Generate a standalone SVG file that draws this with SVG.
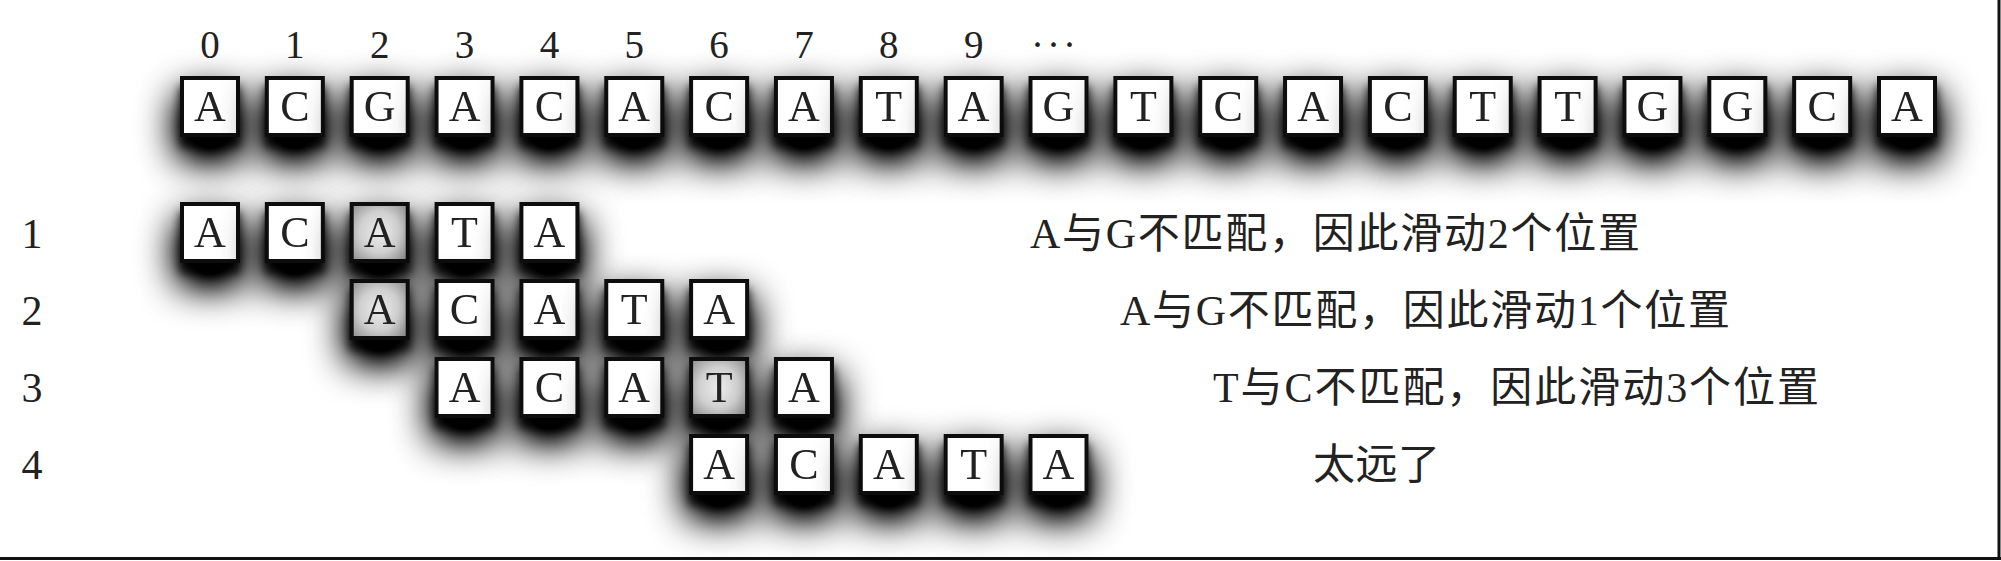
<svg xmlns="http://www.w3.org/2000/svg" width="2001" height="561" viewBox="0 0 2001 561">
<defs>
<filter id="sh" x="-120%" y="-120%" width="340%" height="380%">
<feGaussianBlur in="SourceAlpha" stdDeviation="20" result="w"/>
<feOffset in="w" dy="20" result="wo"/>
<feComponentTransfer in="wo" result="wc"><feFuncA type="linear" slope="1.7"/></feComponentTransfer>
<feGaussianBlur in="SourceAlpha" stdDeviation="5" result="t"/>
<feOffset in="t" dy="10" result="to"/>
<feComponentTransfer in="to" result="tc"><feFuncA type="linear" slope="0.85"/></feComponentTransfer>
<feMerge><feMergeNode in="wc"/><feMergeNode in="tc"/><feMergeNode in="SourceGraphic"/></feMerge>
</filter>
<radialGradient id="hl" cx="50%" cy="50%" r="65%">
<stop offset="0" stop-color="#ececec"/>
<stop offset="0.55" stop-color="#d0d0d0"/>
<stop offset="1" stop-color="#959595"/>
</radialGradient>
<style>
.n{filter:url(#sh)}
.b{fill:#fff;stroke:#111;stroke-width:4}
.h{fill:url(#hl);stroke:#111;stroke-width:4}
.l{font-family:"Liberation Serif",serif;font-size:44px;text-anchor:middle;fill:#222}
.ix{font-family:"Liberation Serif",serif;font-size:39px;text-anchor:middle;fill:#222}
.rw{font-family:"Liberation Serif",serif;font-size:42px;text-anchor:middle;fill:#222}
.t{font-family:"Liberation Serif","Noto Sans CJK SC",serif;font-size:42px;fill:#222}
</style>
</defs>
<rect width="2001" height="561" fill="#fff"/>
<g id="index-labels">
<text class="ix" x="210" y="58">0</text>
<text class="ix" x="294.85" y="58">1</text>
<text class="ix" x="379.7" y="58">2</text>
<text class="ix" x="464.55" y="58">3</text>
<text class="ix" x="549.4" y="58">4</text>
<text class="ix" x="634.25" y="58">5</text>
<text class="ix" x="719.1" y="58">6</text>
<text class="ix" x="803.95" y="58">7</text>
<text class="ix" x="888.8" y="58">8</text>
<text class="ix" x="973.65" y="58">9</text>
<text class="ix" x="1055" y="58" letter-spacing="3">···</text>
</g>
<g id="text-row">
<g id="t0" class="n" transform="translate(180,76)"><rect class="b" x="2" y="2" width="56" height="57"/><text class="l" x="30" y="45">A</text></g>
<g id="t1" class="n" transform="translate(264.85,76)"><rect class="b" x="2" y="2" width="56" height="57"/><text class="l" x="30" y="45">C</text></g>
<g id="t2" class="n" transform="translate(349.7,76)"><rect class="b" x="2" y="2" width="56" height="57"/><text class="l" x="30" y="45">G</text></g>
<g id="t3" class="n" transform="translate(434.55,76)"><rect class="b" x="2" y="2" width="56" height="57"/><text class="l" x="30" y="45">A</text></g>
<g id="t4" class="n" transform="translate(519.4,76)"><rect class="b" x="2" y="2" width="56" height="57"/><text class="l" x="30" y="45">C</text></g>
<g id="t5" class="n" transform="translate(604.25,76)"><rect class="b" x="2" y="2" width="56" height="57"/><text class="l" x="30" y="45">A</text></g>
<g id="t6" class="n" transform="translate(689.1,76)"><rect class="b" x="2" y="2" width="56" height="57"/><text class="l" x="30" y="45">C</text></g>
<g id="t7" class="n" transform="translate(773.95,76)"><rect class="b" x="2" y="2" width="56" height="57"/><text class="l" x="30" y="45">A</text></g>
<g id="t8" class="n" transform="translate(858.8,76)"><rect class="b" x="2" y="2" width="56" height="57"/><text class="l" x="30" y="45">T</text></g>
<g id="t9" class="n" transform="translate(943.65,76)"><rect class="b" x="2" y="2" width="56" height="57"/><text class="l" x="30" y="45">A</text></g>
<g id="t10" class="n" transform="translate(1028.5,76)"><rect class="b" x="2" y="2" width="56" height="57"/><text class="l" x="30" y="45">G</text></g>
<g id="t11" class="n" transform="translate(1113.35,76)"><rect class="b" x="2" y="2" width="56" height="57"/><text class="l" x="30" y="45">T</text></g>
<g id="t12" class="n" transform="translate(1198.2,76)"><rect class="b" x="2" y="2" width="56" height="57"/><text class="l" x="30" y="45">C</text></g>
<g id="t13" class="n" transform="translate(1283.05,76)"><rect class="b" x="2" y="2" width="56" height="57"/><text class="l" x="30" y="45">A</text></g>
<g id="t14" class="n" transform="translate(1367.9,76)"><rect class="b" x="2" y="2" width="56" height="57"/><text class="l" x="30" y="45">C</text></g>
<g id="t15" class="n" transform="translate(1452.75,76)"><rect class="b" x="2" y="2" width="56" height="57"/><text class="l" x="30" y="45">T</text></g>
<g id="t16" class="n" transform="translate(1537.6,76)"><rect class="b" x="2" y="2" width="56" height="57"/><text class="l" x="30" y="45">T</text></g>
<g id="t17" class="n" transform="translate(1622.45,76)"><rect class="b" x="2" y="2" width="56" height="57"/><text class="l" x="30" y="45">G</text></g>
<g id="t18" class="n" transform="translate(1707.3,76)"><rect class="b" x="2" y="2" width="56" height="57"/><text class="l" x="30" y="45">G</text></g>
<g id="t19" class="n" transform="translate(1792.15,76)"><rect class="b" x="2" y="2" width="56" height="57"/><text class="l" x="30" y="45">C</text></g>
<g id="t20" class="n" transform="translate(1877,76)"><rect class="b" x="2" y="2" width="56" height="57"/><text class="l" x="30" y="45">A</text></g>
</g>
<g id="row-labels">
<text class="rw" x="32" y="248">1</text>
<text class="rw" x="32" y="325">2</text>
<text class="rw" x="32" y="402">3</text>
<text class="rw" x="32" y="479">4</text>
</g>
<g id="attempt-1">
<g id="r1-0" class="n" transform="translate(180,202)"><rect class="b" x="2" y="2" width="56" height="57"/><text class="l" x="30" y="45">A</text></g>
<g id="r1-1" class="n" transform="translate(264.85,202)"><rect class="b" x="2" y="2" width="56" height="57"/><text class="l" x="30" y="45">C</text></g>
<g id="r1-2" class="n" transform="translate(349.7,202)"><rect class="h" x="2" y="2" width="56" height="57"/><text class="l" x="30" y="45">A</text></g>
<g id="r1-3" class="n" transform="translate(434.55,202)"><rect class="b" x="2" y="2" width="56" height="57"/><text class="l" x="30" y="45">T</text></g>
<g id="r1-4" class="n" transform="translate(519.4,202)"><rect class="b" x="2" y="2" width="56" height="57"/><text class="l" x="30" y="45">A</text></g>
</g>
<g id="attempt-2">
<g id="r2-0" class="n" transform="translate(349.7,279)"><rect class="h" x="2" y="2" width="56" height="57"/><text class="l" x="30" y="45">A</text></g>
<g id="r2-1" class="n" transform="translate(434.55,279)"><rect class="b" x="2" y="2" width="56" height="57"/><text class="l" x="30" y="45">C</text></g>
<g id="r2-2" class="n" transform="translate(519.4,279)"><rect class="b" x="2" y="2" width="56" height="57"/><text class="l" x="30" y="45">A</text></g>
<g id="r2-3" class="n" transform="translate(604.25,279)"><rect class="b" x="2" y="2" width="56" height="57"/><text class="l" x="30" y="45">T</text></g>
<g id="r2-4" class="n" transform="translate(689.1,279)"><rect class="b" x="2" y="2" width="56" height="57"/><text class="l" x="30" y="45">A</text></g>
</g>
<g id="attempt-3">
<g id="r3-0" class="n" transform="translate(434.55,357)"><rect class="b" x="2" y="2" width="56" height="57"/><text class="l" x="30" y="45">A</text></g>
<g id="r3-1" class="n" transform="translate(519.4,357)"><rect class="b" x="2" y="2" width="56" height="57"/><text class="l" x="30" y="45">C</text></g>
<g id="r3-2" class="n" transform="translate(604.25,357)"><rect class="b" x="2" y="2" width="56" height="57"/><text class="l" x="30" y="45">A</text></g>
<g id="r3-3" class="n" transform="translate(689.1,357)"><rect class="h" x="2" y="2" width="56" height="57"/><text class="l" x="30" y="45">T</text></g>
<g id="r3-4" class="n" transform="translate(773.95,357)"><rect class="b" x="2" y="2" width="56" height="57"/><text class="l" x="30" y="45">A</text></g>
</g>
<g id="attempt-4">
<g id="r4-0" class="n" transform="translate(689.1,434)"><rect class="b" x="2" y="2" width="56" height="57"/><text class="l" x="30" y="45">A</text></g>
<g id="r4-1" class="n" transform="translate(773.95,434)"><rect class="b" x="2" y="2" width="56" height="57"/><text class="l" x="30" y="45">C</text></g>
<g id="r4-2" class="n" transform="translate(858.8,434)"><rect class="b" x="2" y="2" width="56" height="57"/><text class="l" x="30" y="45">A</text></g>
<g id="r4-3" class="n" transform="translate(943.65,434)"><rect class="b" x="2" y="2" width="56" height="57"/><text class="l" x="30" y="45">T</text></g>
<g id="r4-4" class="n" transform="translate(1028.5,434)"><rect class="b" x="2" y="2" width="56" height="57"/><text class="l" x="30" y="45">A</text></g>
</g>
<g id="notes">
<text class="t" x="1030" y="248" textLength="610" lengthAdjust="spacing">A与G不匹配，因此滑动2个位置</text>
<text class="t" x="1120" y="325" textLength="610" lengthAdjust="spacing">A与G不匹配，因此滑动1个位置</text>
<text class="t" x="1213" y="402" textLength="606" lengthAdjust="spacing">T与C不匹配，因此滑动3个位置</text>
<text class="t" x="1313" y="479" textLength="127" lengthAdjust="spacing">太远了</text>
</g>
<g id="connectors"/>
<g id="frame" stroke="#111" stroke-width="3" fill="none">
<line x1="1999" y1="0" x2="1999" y2="560"/>
<line x1="0" y1="558.5" x2="2001" y2="558.5"/>
</g>
</svg>
